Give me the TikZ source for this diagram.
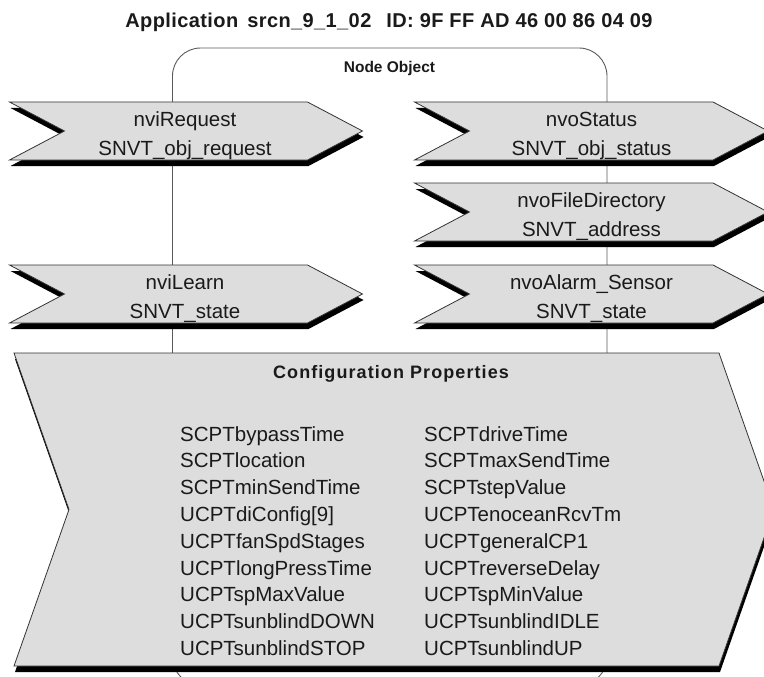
\documentclass[tikz,border=0pt]{standalone}
\usepackage{fontspec}
\setmainfont{Liberation Sans}
\newfontfamily\widebold[LetterSpace=2]{Liberation Sans Bold}
\newfontfamily\cfgbold[LetterSpace=6]{Liberation Sans Bold}
\definecolor{flagfill}{HTML}{DDDDDD}
\definecolor{flagedge}{HTML}{333333}
\definecolor{frameline}{HTML}{5A5A5A}
\definecolor{ink}{HTML}{1A1A1A}

\tikzset{
  flagbody/.style={fill=flagfill, draw=flagedge, line width=0.8pt, line join=miter},
  flagshadow/.style={fill=black},
  frame/.style={draw=frameline, line width=0.9pt},
  flagtext/.style={font=\fontsize{20.5}{24}\selectfont, text=ink, inner sep=0pt, anchor=base},
  proptext/.style={font=\fontsize{20.5}{24}\selectfont, text=ink, inner sep=0pt, anchor=base west},
  headtext/.style={font=\bfseries\fontsize{#1}{#1}\selectfont, text=ink, inner sep=0pt, anchor=base},
}

% chevron-shaped data point outline: left x, top y, right x, height
\newcommand\drawflag[4]{%
  \fill[flagshadow, shift={(1,6)}]
    (#1,#2) -- ({#1+55},{#2+#4/2}) -- (#1,{#2+#4}) -- (#3,{#2+#4})
    -- ({#3+55},{#2+#4/2}) -- (#3,#2) -- cycle;
  \path[flagbody]
    (#1,#2) -- ({#1+55},{#2+#4/2}) -- (#1,{#2+#4}) -- (#3,{#2+#4})
    -- ({#3+55},{#2+#4/2}) -- (#3,#2) -- cycle;
}

\begin{document}
\begin{tikzpicture}[x=1pt, y=-1pt]
  \useasboundingbox (0,0) rectangle (764,677);
  \clip (0,0) rectangle (764,677);

  % node object frame
  \draw[frame, rounded corners=28] (172.5,48) rectangle (607,685);

  \node[headtext=20, font=\widebold\fontsize{20}{20}\selectfont] (apptitle) at (389,28)
    {Application\hspace{9pt}srcn\_9\_1\_02\hspace{15pt}ID: 9F FF AD 46 00 86 04 09};
  \node[headtext=15.5] (nodeobj) at (389.5,73) {Node Object};

  % input network variables
  \drawflag{9.5}{102}{307.5}{58}
  \node[flagtext] (nviRequest) at (185,126) {nviRequest};
  \node[flagtext] (nviRequestType) at (185,155) {SNVT\_obj\_request};

  \drawflag{9.5}{265}{307.5}{58}
  \node[flagtext] (nviLearn) at (185,289) {nviLearn};
  \node[flagtext] (nviLearnType) at (185,318) {SNVT\_state};

  % output network variables
  \drawflag{414.5}{102}{713}{58}
  \node[flagtext] (nvoStatus) at (591.5,126) {nvoStatus};
  \node[flagtext] (nvoStatusType) at (591.5,155) {SNVT\_obj\_status};

  \drawflag{414.5}{183}{713}{58}
  \node[flagtext] (nvoFileDirectory) at (591.5,207) {nvoFileDirectory};
  \node[flagtext] (nvoFileDirectoryType) at (591.5,236) {SNVT\_address};

  \drawflag{414.5}{265}{713}{58}
  \node[flagtext] (nvoAlarmSensor) at (591.5,289) {nvoAlarm\_Sensor};
  \node[flagtext] (nvoAlarmSensorType) at (591.5,318) {SNVT\_state};

  % configuration properties
  \drawflag{14}{353}{719}{313}
  \node[headtext=18, font=\cfgbold\fontsize{18}{18}\selectfont] (cfgtitle) at (391,378)
    {Configuration Properties};

  \foreach \name [count=\i] in {SCPTbypassTime, SCPTlocation, SCPTminSendTime,
      UCPTdiConfig[9], UCPTfanSpdStages, UCPTlongPressTime, UCPTspMaxValue,
      UCPTsunblindDOWN, UCPTsunblindSTOP}
    \node[proptext] (cpL\i) at (180,{441+(\i-1)*26.8}) {\name};

  \foreach \name [count=\i] in {SCPTdriveTime, SCPTmaxSendTime, SCPTstepValue,
      UCPTenoceanRcvTm, UCPTgeneralCP1, UCPTreverseDelay, UCPTspMinValue,
      UCPTsunblindIDLE, UCPTsunblindUP}
    \node[proptext] (cpR\i) at (424,{441+(\i-1)*26.8}) {\name};
\end{tikzpicture}
\end{document}
